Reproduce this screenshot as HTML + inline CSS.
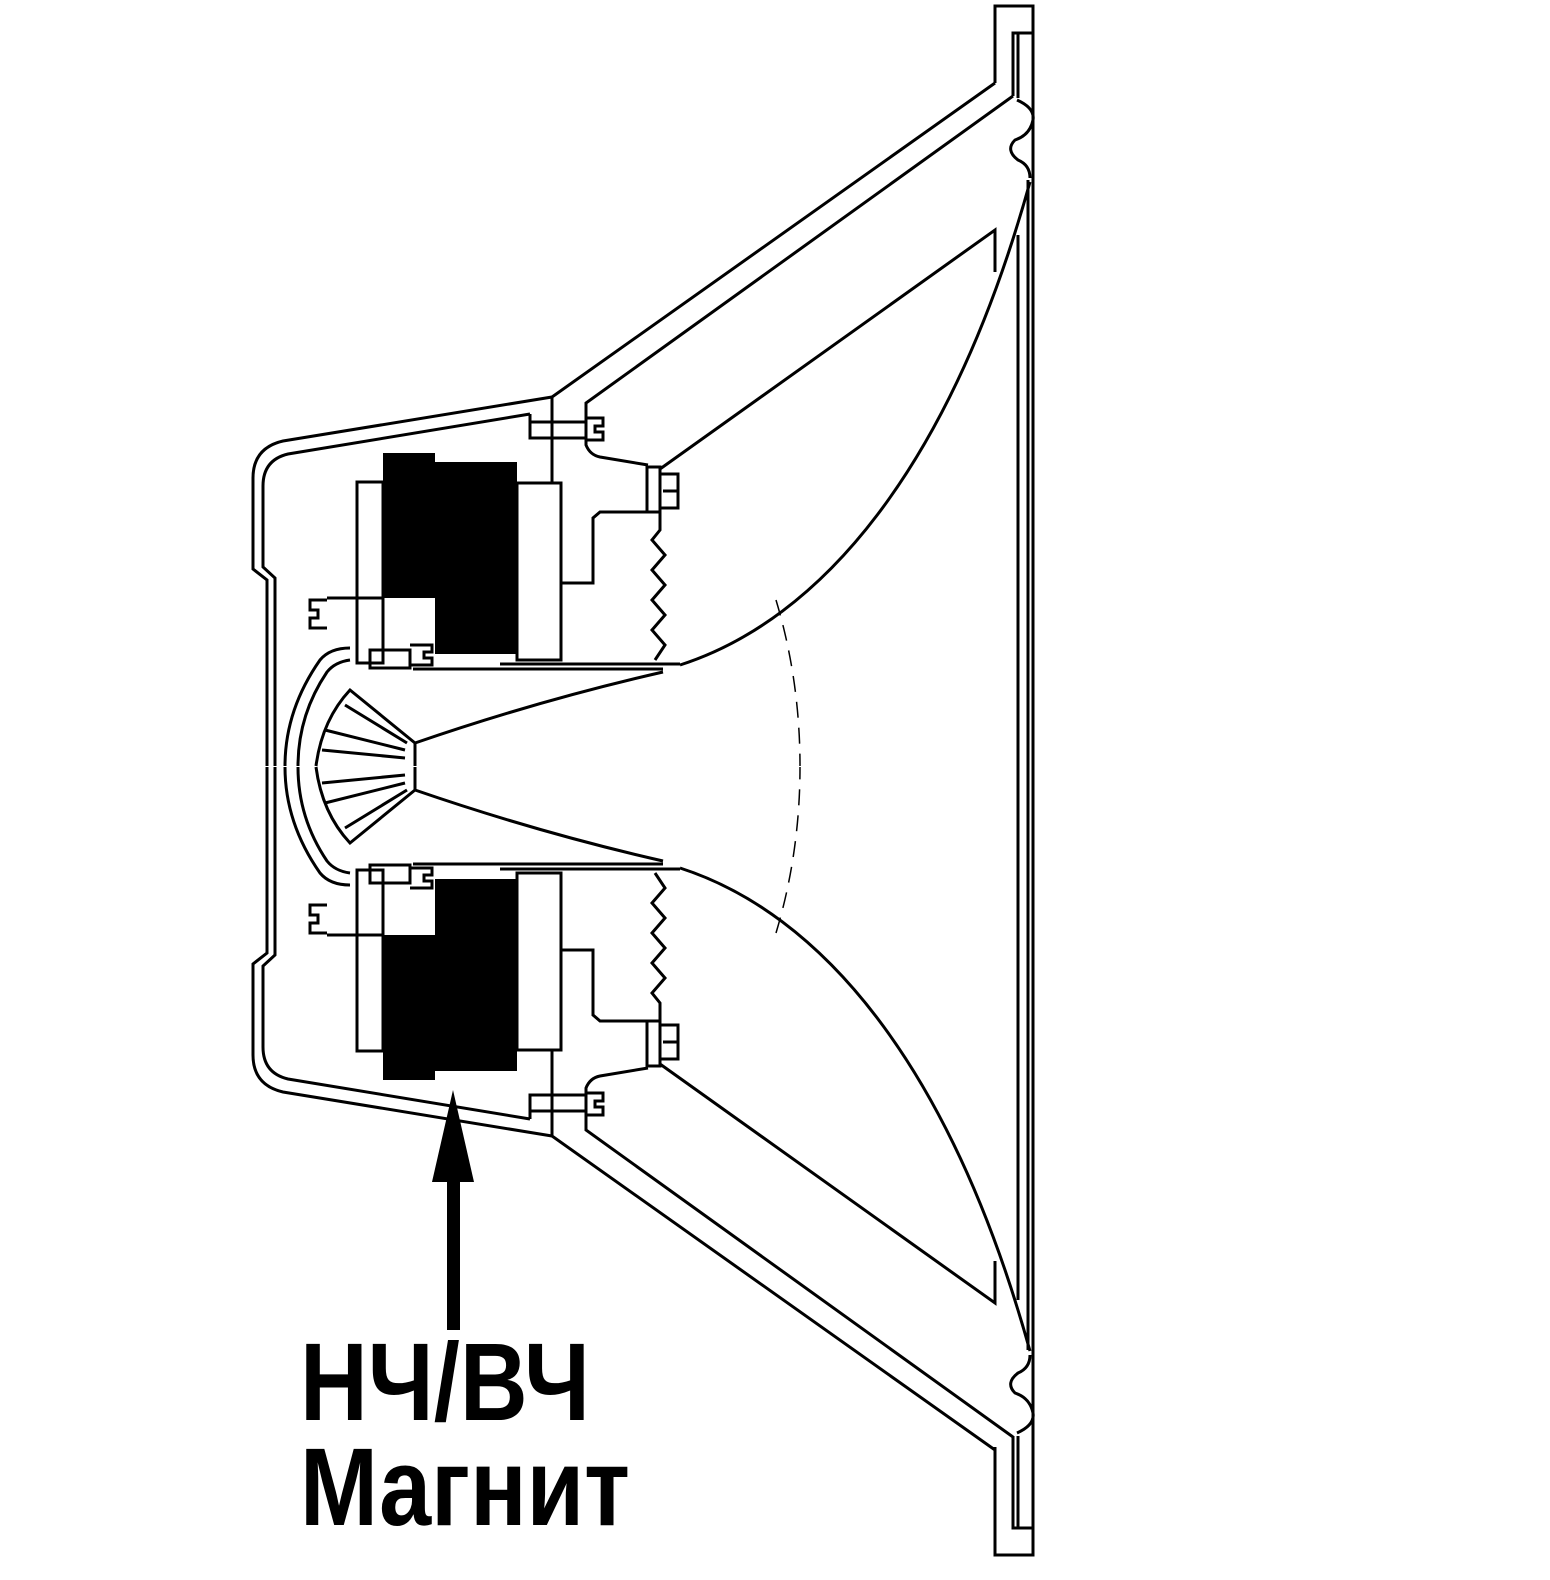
<!DOCTYPE html>
<html><head><meta charset="utf-8"><style>
html,body{margin:0;padding:0;background:#fff}
svg{display:block}
</style></head><body>
<svg width="1550" height="1580" viewBox="0 0 1550 1580" xmlns="http://www.w3.org/2000/svg">
<g fill="none" stroke="#000" stroke-width="3" stroke-linejoin="miter">
<!-- frame -->
<path d="M995 83 L995 6 L1033 6 L1033 1555 L995 1555 L995 1447"/>
<path d="M1013 96 L1013 33 L1033 33"/>
<path d="M1013 1436 L1013 1528 L1033 1528"/>
<line x1="1018" y1="33" x2="1018" y2="98"/>
<line x1="1018" y1="1436" x2="1018" y2="1528"/>
<line x1="1018" y1="235" x2="1018" y2="1300"/>
<line x1="1028" y1="180" x2="1028" y2="1350"/>
<g id="half">
<path d="M1017 100 Q1035 108 1033 120 Q1030 135 1015 140 Q1005 150 1018 160 Q1030 165 1030 178"/>
<path d="M995 83 L552 397 L552 483"/>
<path d="M1013 96 L586 403 L586 445 Q590 455 600 457 L648 465"/>
<path d="M995 272 L995 230 L660 469"/>
<path d="M680 665 C820 620 950 470 1030 182"/>
<path d="M776 600 Q800 680 800 766" stroke-dasharray="16 10" stroke-width="1.5"/>
<path d="M552 397 L283 441 Q253 448 253 478 L253 569 L267 580 L267 766"/>
<path d="M530 414 L288 454 Q263 460 263 486 L263 567 L275 578 L275 766"/>
<path d="M530 414 L530 438 L586 438 M530 422 L586 422"/>
<path d="M586 418 L603 418 L603 426 L595 426 L595 432 L603 432 L603 440 L586 440"/>
<rect x="357" y="482" width="26" height="116"/>
<rect x="517" y="483" width="44" height="177"/>
<path d="M561 583 L593 583 L593 518 L600 512 L647 512"/>
<rect x="647" y="467" width="13" height="45"/>
<path d="M660 474 L678 474 L678 508 L660 508 M663 491 L678 491"/>
<path d="M660 512 L660 530 L652 540 L665 555 L652 570 L665 585 L652 600 L665 615 L652 630 L665 645 L655 660"/>
<line x1="413" y1="669" x2="663" y2="669"/>
<line x1="500" y1="664" x2="680" y2="664"/>
<path d="M415 743 Q540 700 663 672"/>
<path d="M327 600 L310 600 L310 610 L318 610 L318 618 L310 618 L310 628 L327 628"/>
<path d="M327 598 L357 598 L357 663 L383 663 L383 598"/>
<path d="M370 650 L370 668 L410 668 L410 650 Z"/>
<path d="M410 645 L432 645 L432 652 L424 652 L424 658 L432 658 L432 665 L410 665"/>
<path d="M350 648 Q330 648 320 660 Q285 710 285 766"/>
<path d="M350 660 Q335 662 327 672 Q298 715 298 766"/>
<path d="M415 743 L350 690 Q322 720 316 766"/>
<path d="M407 743 L345 705 M405 750 L325 730 M405 758 L322 750"/>
<path d="M415 743 L415 766"/>
</g>
<use href="#half" transform="translate(0,1533) scale(1,-1)"/>
</g>
<polygon points="383,453 435,453 435,462 517,462 517,654 435,654 435,598 383,598" fill="#000"/>
<polygon points="383,1080 435,1080 435,1071 517,1071 517,879 435,879 435,935 383,935" fill="#000"/>
<polygon points="453,1090 432,1182 474,1182" fill="#000"/>
<rect x="447" y="1178" width="13" height="152" fill="#000"/>
<text x="300" y="1420" font-family="Liberation Sans, sans-serif" font-weight="bold" font-size="110" textLength="290" lengthAdjust="spacingAndGlyphs">НЧ/ВЧ</text>
<text x="300" y="1525" font-family="Liberation Sans, sans-serif" font-weight="bold" font-size="110" textLength="330" lengthAdjust="spacingAndGlyphs">Магнит</text>
</svg>
</body></html>
